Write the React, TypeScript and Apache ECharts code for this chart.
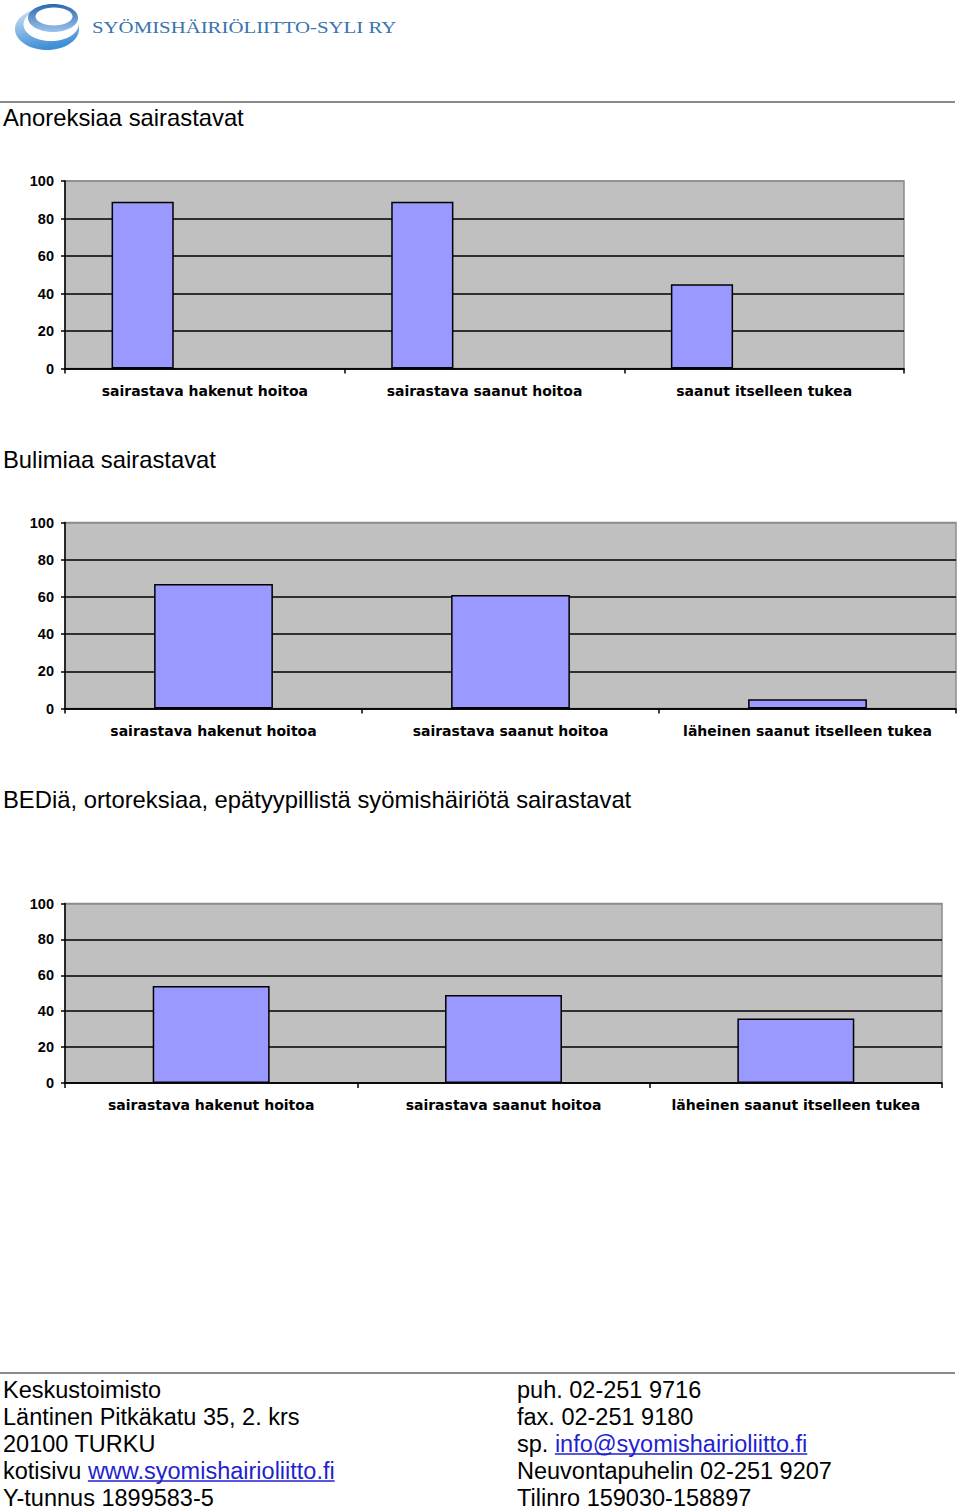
import React, { useEffect, useRef } from "react";
import * as echarts from "echarts";

// ---------- data ----------
const anoreksiaCategories = ["sairastava hakenut hoitoa", "sairastava saanut hoitoa", "saanut itselleen tukea"];
const anoreksiaValues = [89, 89, 45];

const bulimiaCategories = ["sairastava hakenut hoitoa", "sairastava saanut hoitoa", "läheinen saanut itselleen tukea"];
const bulimiaValues = [67, 61, 5];

const bedCategories = ["sairastava hakenut hoitoa", "sairastava saanut hoitoa", "läheinen saanut itselleen tukea"];
const bedValues = [54, 49, 36];

const yMin = 0;
const yMax = 100;
const yInterval = 20;

const chartTitles = [
  "Anoreksiaa sairastavat",
  "Bulimiaa sairastavat",
  "BEDiä, ortoreksiaa, epätyypillistä syömishäiriötä sairastavat",
];

const logoText = "SYÖMISHÄIRIÖLIITTO-SYLI RY";

const footerLeft = [
  { text: "Keskustoimisto", link: "" },
  { text: "Läntinen Pitkäkatu 35, 2. krs", link: "" },
  { text: "20100 TURKU", link: "" },
  { text: "kotisivu ", link: "www.syomishairioliitto.fi" },
  { text: "Y-tunnus 1899583-5", link: "" },
];
const footerRight = [
  { text: "puh. 02-251 9716", link: "" },
  { text: "fax. 02-251 9180", link: "" },
  { text: "sp. ", link: "info@syomishairioliitto.fi" },
  { text: "Neuvontapuhelin 02-251 9207", link: "" },
  { text: "Tilinro 159030-158897", link: "" },
];

// ---------- styling / layout ----------
const BAR_COLOR = "#9999ff";
const PLOT_BG = "#c0c0c0";
const BORDER_GRAY = "#8c8c8c";
const SANS = '"Liberation Sans", Arial, sans-serif';
const LINK_COLOR = "#1f1fd0";

const grids = [
  { left: 65, top: 181, width: 839, height: 187.5 },
  { left: 65, top: 522.5, width: 891, height: 186 },
  { left: 65, top: 903.5, width: 877, height: 179.5 },
];
const titleY = [117.5, 459.5, 799.5];

export default function App() {
  const ref = useRef<HTMLDivElement>(null);

  useEffect(() => {
    if (!ref.current) return;
    const chart = echarts.init(ref.current, undefined, { renderer: "svg" });

    const ctx = document.createElement("canvas").getContext("2d")!;
    const footerFont = 23.5;
    ctx.font = `${footerFont}px "Liberation Sans"`;
    const measure = (s: string) => ctx.measureText(s).width;

    const categoriesList = [anoreksiaCategories, bulimiaCategories, bedCategories];

    const xAxes = categoriesList.map((cats, i) => ({
      type: "category",
      gridIndex: i,
      data: cats,
      boundaryGap: true,
      axisLine: { show: true, lineStyle: { color: "#000", width: 1.5 } },
      axisTick: { show: true, interval: 0, length: 5, lineStyle: { color: "#000", width: 1.5 } },
      axisLabel: {
        interval: 0,
        color: "#000",
        fontFamily: '"DejaVu Sans", sans-serif',
        fontWeight: "bold",
        fontSize: 14,
        margin: 15,
      },
      splitLine: { show: false },
    }));

    const splitColors = ["#000", "#000", "#000", "#000", "#000", BORDER_GRAY];

    const yAxes = categoriesList.map((_, i) => ({
      type: "value",
      gridIndex: i,
      min: yMin,
      max: yMax,
      interval: yInterval,
      axisLine: { show: true, lineStyle: { color: "#000", width: 1.5 } },
      axisTick: { show: true, length: 4, lineStyle: { color: "#000", width: 1.5 } },
      axisLabel: {
        color: "#000",
        fontFamily: SANS,
        fontWeight: "bold",
        fontSize: 14.5,
        margin: 11,
      },
      splitLine: { show: true, lineStyle: { color: splitColors, width: 1.5 } },
    }));

    const barItem = { color: BAR_COLOR, borderColor: "#000", borderWidth: 1.5 };
    const empty = anoreksiaCategories.map(() => null);

    const series: any[] = [
      {
        type: "bar",
        name: "Anoreksia",
        xAxisIndex: 0,
        yAxisIndex: 0,
        data: anoreksiaValues,
        barGap: "0%",
        barCategoryGap: "33.3%",
        itemStyle: barItem,
      },
      { type: "bar", name: "s2", xAxisIndex: 0, yAxisIndex: 0, data: empty, itemStyle: barItem },
      { type: "bar", name: "s3", xAxisIndex: 0, yAxisIndex: 0, data: empty, itemStyle: barItem },
      {
        type: "bar",
        name: "Bulimia",
        xAxisIndex: 1,
        yAxisIndex: 1,
        data: bulimiaValues,
        barCategoryGap: "60%",
        itemStyle: barItem,
      },
      {
        type: "bar",
        name: "BED",
        xAxisIndex: 2,
        yAxisIndex: 2,
        data: bedValues,
        barCategoryGap: "60%",
        itemStyle: barItem,
      },
    ];

    const graphics: any[] = [];

    // logo
    graphics.push({
      type: "ellipse",
      shape: { cx: 47, cy: 29, rx: 32, ry: 21 },
      style: {
        fill: new echarts.graphic.LinearGradient(0, 0, 0.3, 1, [
          { offset: 0, color: "#d6e7f6" },
          { offset: 1, color: "#3f8fd6" },
        ]),
      },
    });
    graphics.push({ type: "ellipse", shape: { cx: 51, cy: 24.5, rx: 27.5, ry: 16.5 }, style: { fill: "#ffffff" } });
    graphics.push({
      type: "ellipse",
      shape: { cx: 53, cy: 18, rx: 25, ry: 14 },
      style: {
        fill: new echarts.graphic.LinearGradient(0, 0, 0, 1, [
          { offset: 0, color: "#2a68ad" },
          { offset: 1, color: "#9cc3ea" },
        ]),
      },
    });
    graphics.push({ type: "ellipse", shape: { cx: 54, cy: 16.5, rx: 18.5, ry: 9 }, style: { fill: "#ffffff" } });
    graphics.push({
      type: "text",
      x: 92,
      y: 27.5,
      scaleX: 1.19,
      style: {
        x: 0,
        y: 0,
        text: logoText,
        fill: "#3a74b0",
        font: '17.5px "Liberation Serif", serif',
        verticalAlign: "middle",
        align: "left",
      },
    });

    // top rule
    graphics.push({
      type: "line",
      shape: { x1: 0, y1: 102, x2: 955, y2: 102 },
      style: { stroke: "#8a8a8a", lineWidth: 2 },
    });

    // chart titles
    chartTitles.forEach((t, i) => {
      graphics.push({
        type: "text",
        x: 3,
        y: titleY[i],
        style: { text: t, fill: "#000", font: `23.8px ${SANS}`, verticalAlign: "middle", align: "left" },
      });
    });

    // footer rule
    graphics.push({
      type: "line",
      shape: { x1: 0, y1: 1373, x2: 955, y2: 1373 },
      style: { stroke: "#8a8a8a", lineWidth: 2 },
    });

    const footerCols = [
      { x: 3, rows: footerLeft },
      { x: 517, rows: footerRight },
    ];
    footerCols.forEach((col) => {
      col.rows.forEach((row, r) => {
        const y = 1389.5 + r * 27;
        graphics.push({
          type: "text",
          x: col.x,
          y,
          style: { text: row.text, fill: "#000", font: `${footerFont}px ${SANS}`, verticalAlign: "middle", align: "left" },
        });
        if (row.link) {
          const lx = col.x + measure(row.text);
          const lw = measure(row.link);
          graphics.push({
            type: "text",
            x: lx,
            y,
            style: { text: row.link, fill: LINK_COLOR, font: `${footerFont}px ${SANS}`, verticalAlign: "middle", align: "left" },
          });
          graphics.push({
            type: "line",
            shape: { x1: lx, y1: y + 10.5, x2: lx + lw, y2: y + 10.5 },
            style: { stroke: LINK_COLOR, lineWidth: 1.5 },
          });
        }
      });
    });

    chart.setOption({
      animation: false,
      backgroundColor: "#ffffff",
      grid: grids.map((g) => ({
        ...g,
        show: true,
        backgroundColor: PLOT_BG,
        borderColor: BORDER_GRAY,
        borderWidth: 1.5,
        containLabel: false,
      })),
      xAxis: xAxes,
      yAxis: yAxes,
      series,
      graphic: graphics,
    });

    return () => chart.dispose();
  }, []);

  return (
    <div
      ref={ref}
      style={{ position: "absolute", left: 0, top: 0, width: 960, height: 1510, background: "#fff" }}
    />
  );
}
